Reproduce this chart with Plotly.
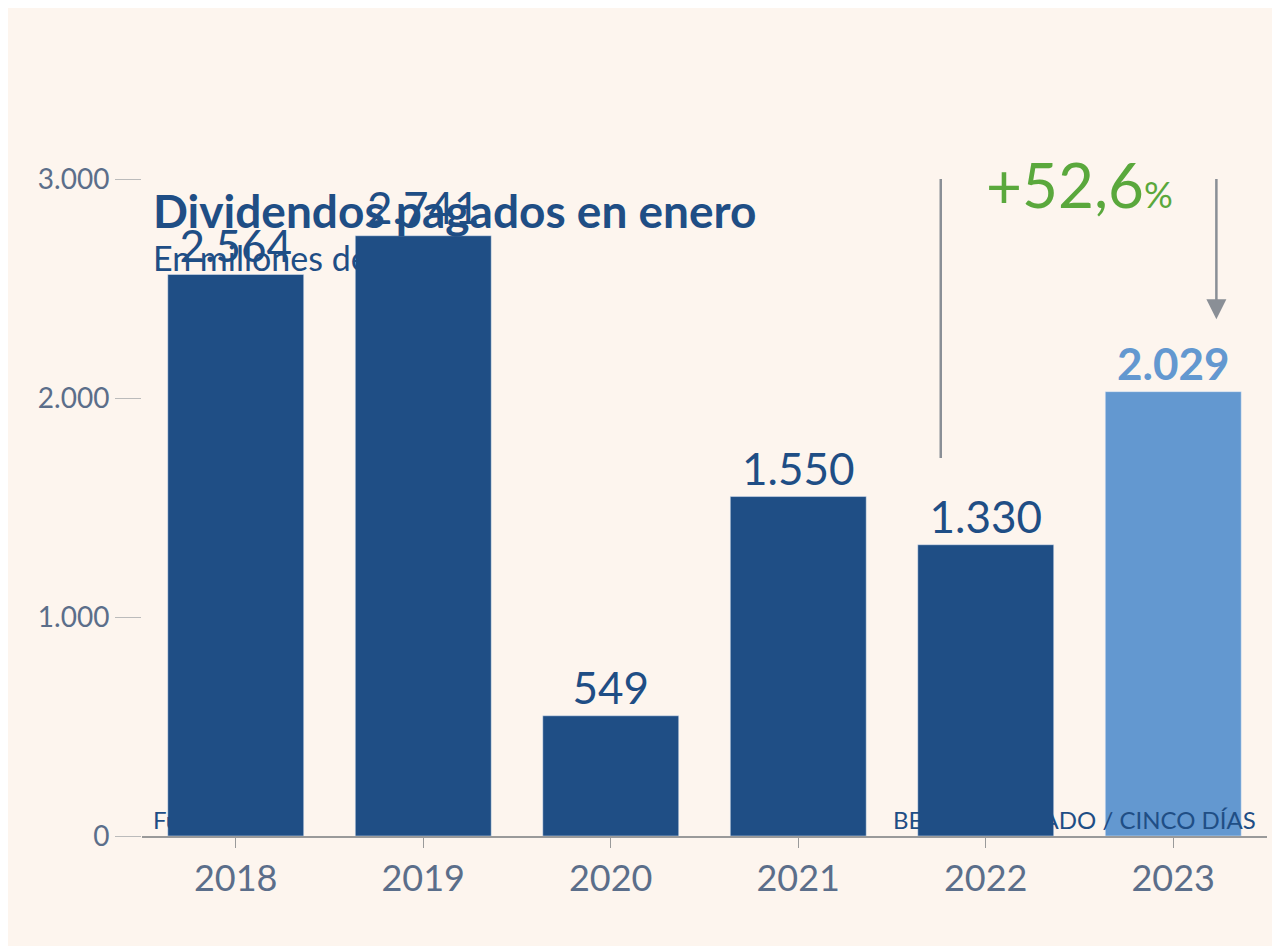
import plotly.graph_objects as go

years = ["2018", "2019", "2020", "2021", "2022", "2023"]
values = [2564, 2741, 549, 1550, 1330, 2029]
labels = ["2.564", "2.741", "549", "1.550", "1.330", "2.029"]
yticks = [0, 1000, 2000, 3000]
yticklabels = ["0", "1.000", "2.000", "3.000"]

dark = "#1f4e85"
light = "#6398d0"
colors = [dark] * 5 + [light]
bg = "#fdf5ee"

fig = go.Figure(go.Bar(
    x=list(range(len(years))), y=values, width=0.725,
    marker_color=colors, text=labels, textposition="outside",
    textfont=dict(size=44, color=[dark] * 5 + [light], family="Lato"),
    cliponaxis=False,
))
fig.data[0].texttemplate = ["%{text}"] * 5 + ["<b>%{text}</b>"]

fig.update_layout(
    width=1280, height=946, paper_bgcolor=bg, plot_bgcolor=bg,
    margin=dict(l=134, r=21, t=171, b=118), showlegend=False,
    font=dict(family="Lato", color="#5b6e8a"),
    xaxis=dict(range=[-0.5, 5.5], tickvals=list(range(6)), ticktext=years,
               tickfont=dict(size=36, color="#5b6e8a"), showgrid=False,
               showline=True, linecolor="#9a9a9a", linewidth=2,
               ticks="outside", ticklen=10, tickcolor="#9a9a9a", zeroline=False),
    yaxis=dict(range=[0, 3000], tickvals=yticks, ticktext=yticklabels,
               tickfont=dict(size=28, color="#5b6e8a"), showgrid=False,
               ticks="outside", ticklen=26, tickcolor="#bbbbbb", zeroline=False),
    bargap=0.275,
)

fig.add_shape(type="path", path="M 3.76 1726 L 3.76 3301 L 5.23 3301 L 5.23 2420",
              line=dict(color="#8a8f96", width=2.5), xref="x", yref="y")
fig.add_annotation(x=5.23, y=2360, ax=5.23, ay=2450, xref="x", yref="y",
                   axref="x", ayref="y", text="", showarrow=True,
                   arrowhead=2, arrowsize=1.6, arrowwidth=2.5, arrowcolor="#8a8f96")
fig.add_annotation(x=4.5, y=2975, xref="x", yref="y", showarrow=False,
                   text="+52,6<span style='font-size:36px'>%</span>",
                   font=dict(size=62, color="#5aa83c", family="Lato"))

fig.add_annotation(x=10/1280, y=1-45/946, xref="paper", yref="paper", xanchor="left",
                   yanchor="middle", showarrow=False, text="<b>Dividendos pagados en enero</b>",
                   font=dict(size=46, color=dark, family="Lato"))
fig.add_annotation(x=10/1280, y=1-113/946, xref="paper", yref="paper", xanchor="left",
                   yanchor="middle", showarrow=False, text="En millones de euros",
                   font=dict(size=34, color=dark, family="Lato"))
fig.add_annotation(x=10/1280, y=1-922/946, xref="paper", yref="paper", xanchor="left",
                   yanchor="middle", showarrow=False, text="Fuente: BME",
                   font=dict(size=24, color=dark, family="Lato"))
fig.add_annotation(x=1270/1280, y=1-922/946, xref="paper", yref="paper", xanchor="right",
                   yanchor="middle", showarrow=False, text="BELÉN TRINCADO / CINCO DÍAS",
                   font=dict(size=24, color=dark, family="Lato"))

fig.write_html("out.html")
